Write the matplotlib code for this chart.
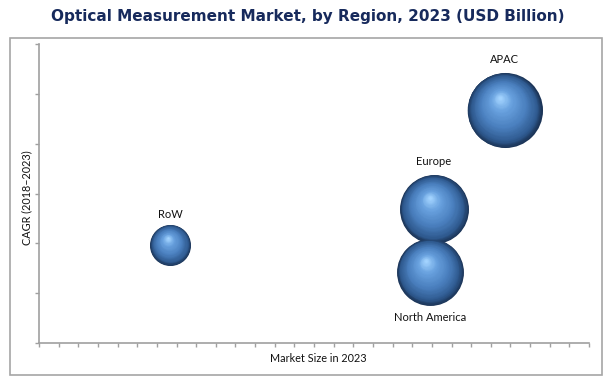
import matplotlib
matplotlib.use("Agg")
import matplotlib.pyplot as plt
import numpy as np
from matplotlib import transforms
from matplotlib.colors import LinearSegmentedColormap
from matplotlib.patches import Rectangle

# data (axis units: 28 x-steps, 6 y-steps)
regions = ["RoW", "Europe", "North America", "APAC"]
market_size = [6.67, 20.1, 19.9, 23.7]
cagr = [1.97, 2.69, 1.43, 4.68]
bubble_size = [0.42, 1.19, 1.12, 1.41]
label_above = [True, True, False, True]

W, H, DPI = 6.10, 3.83, 100
fig = plt.figure(figsize=(W, H), dpi=DPI)
fig.patch.set_facecolor("white")

# outer frame
fig.patches.append(Rectangle((10 / 610, 1 - 375 / 383), 592 / 610, 337 / 383,
                             transform=fig.transFigure, fill=False,
                             edgecolor="#a6a6a6", linewidth=1.2))

ax = fig.add_axes([39 / 610, 1 - 343 / 383, 550 / 610, 299 / 383])
ax.set_xlim(0, 28)
ax.set_ylim(0, 6)
ax.set_facecolor("none")
for s in ["top", "right"]:
    ax.spines[s].set_visible(False)
for s in ["left", "bottom"]:
    ax.spines[s].set_color("#a0a0a0")
    ax.spines[s].set_linewidth(1.2)
ax.set_xticks(np.arange(0, 29))
ax.set_yticks(np.arange(0, 7))
ax.tick_params(axis="both", colors="#a0a0a0", length=3, width=1,
               labelbottom=False, labelleft=False)

cmap = LinearSegmentedColormap.from_list("sphere", [
    (0.0, "#1c3558"), (0.12, "#2f5a8f"), (0.4, "#4a7fbe"),
    (0.75, "#69a2df"), (1.0, "#a2d3ff")])

n_layers = 50
px_per_pt = DPI / 72.0
for x, y, sz in zip(market_size, cagr, bubble_size):
    r = 31.6 * np.sqrt(sz)  # radius in pixels
    hx, hy = -0.12 * r, 0.32 * r
    for k in range(n_layers):
        t = k / (n_layers - 1)
        rr = r * (1 - 0.96 * t)
        tr = transforms.offset_copy(ax.transData, fig=fig, x=hx * t, y=hy * t,
                                    units="dots")
        d_pt = 2 * rr / px_per_pt
        ax.scatter([x], [y], s=d_pt ** 2, color=cmap(t), linewidths=0,
                   transform=tr, zorder=3 + k * 0.01, clip_on=False)

for name, x, y, sz, above in zip(regions, market_size, cagr, bubble_size, label_above):
    r = 31.6 * np.sqrt(sz)
    off = (r + 10) * 0.72 + (2 if sz > 1 else 0)
    ax.annotate(name, (x, y), xytext=(0, off if above else -off),
                textcoords="offset points", ha="center", va="center",
                fontsize=8, family="Lato", color="#111111", zorder=10)

fig.text(308 / 610, 1 - 16 / 383, "Optical Measurement Market, by Region, 2023 (USD Billion)",
         ha="center", va="center", fontsize=11, fontweight="bold",
         color="#172a5c", family="DejaVu Sans")
fig.text(318 / 610, 1 - 359 / 383, "Market Size in 2023", ha="center", va="center",
         fontsize=7.8, family="Lato", color="#111111")
fig.text(27 / 610, 1 - 198 / 383, "CAGR (2018–2023)", ha="center", va="center",
         rotation=90, fontsize=7.8, family="Lato", color="#111111")

fig.savefig("out.png", dpi=DPI)
